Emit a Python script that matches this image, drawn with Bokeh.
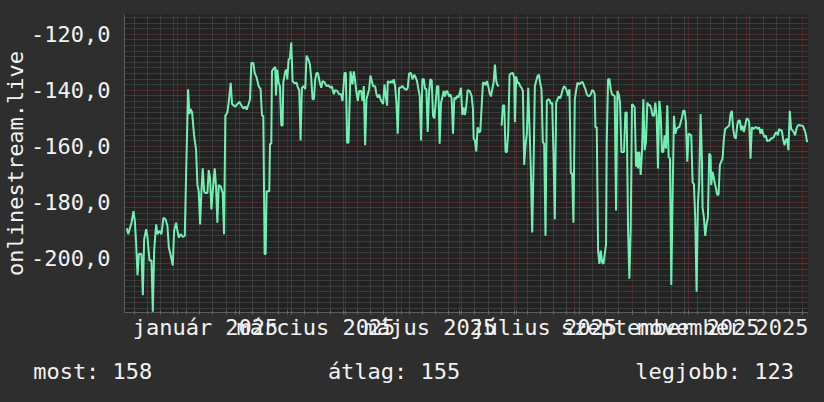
from bokeh.plotting import figure
from bokeh.models import (Range1d, FixedTicker, ColumnDataSource, LinearAxis,
                          GlobalInlineStyleSheet)
from bokeh.embed import file_html
from bokeh.resources import INLINE

# days since 2025-01-01 and the measured value (onlinestream.live)
day_offset = [
    -27.04, -26.33, -24.55, -23.48, -22.77, -22.06, -21.34, -20.63, -19.21, -18.50,
    -17.79, -16.72, -16.01, -14.94, -13.87, -13.16, -12.45, -11.38, -10.67, -9.61,
    -8.54, -7.47, -6.40, -5.34, -4.62, -3.56, -2.49, -1.78, -0.71, 0.00,
    0.71, 1.78, 2.85, 3.91, 4.62, 5.69, 6.40, 7.11, 7.83, 8.89,
    9.96, 10.67, 11.38, 12.10, 12.81, 13.52, 14.23, 14.94, 16.01, 16.72,
    17.43, 18.14, 18.85, 19.92, 20.63, 21.34, 22.06, 23.12, 24.19, 24.90,
    25.61, 26.68, 27.39, 28.46, 29.17,
    29.88, 30.95, 32.02, 33.08, 34.15, 35.22, 36.29, 37.00, 38.06, 38.78,
    39.49, 40.55, 41.27, 42.33, 43.40, 44.47, 45.18, 45.89, 46.60, 47.14,
    47.67, 49.09, 49.45, 50.16, 50.52, 51.23, 52.29, 52.65, 53.36, 54.07,
    54.78, 55.50, 56.21, 56.56, 57.63, 58.34, 58.70, 59.41, 60.12, 60.83,
    61.54, 62.61, 63.68, 64.39, 65.10, 65.81, 66.52, 67.59, 68.30, 69.01,
    70.08, 70.79, 71.50, 72.22, 72.93, 73.64, 74.35, 75.06, 76.13, 76.84,
    77.55, 78.62, 79.69, 80.75, 81.82, 82.53, 83.60, 84.31, 85.38, 86.45,
    87.51, 88.22, 89.29, 90.00, 90.71, 91.43,
    92.49, 93.56, 94.27, 94.98, 95.70, 96.41, 97.12, 98.19, 98.90, 99.61,
    100.32, 101.03, 101.74, 102.45, 103.17, 103.88, 104.59, 105.66, 106.37, 107.08,
    107.79, 108.50, 109.21, 109.93, 110.64, 111.35, 112.06, 112.42, 113.48, 114.19,
    114.91, 115.62, 116.33, 117.04, 117.75, 118.46, 119.17, 120.24, 121.31, 122.38,
    123.09, 123.80, 124.87, 125.58, 126.64, 127.36, 128.07, 128.78, 129.49, 130.20,
    130.91, 131.63, 132.34, 133.05, 133.76, 134.47, 135.18, 135.90, 136.61, 137.32,
    138.03, 138.74, 139.45, 140.16, 140.88, 141.59, 142.30, 143.01, 143.72, 144.43,
    145.14, 145.86, 146.57, 147.28, 147.99, 148.70, 149.41, 150.12, 150.83,
    151.55, 152.26, 152.97, 153.68, 154.39, 155.10, 156.17, 157.24, 157.95, 158.31,
    159.02, 159.73, 160.44, 161.15, 161.86, 162.58, 163.29, 164.00, 164.71, 165.42,
    166.13, 166.84, 167.56, 168.27, 168.98, 169.69, 170.40, 171.11, 171.82, 172.50,
    173.25, 173.96, 174.67, 175.38, 176.09, 176.80, 177.52, 178.23, 179.30, 180.01,
    180.36, 181.07, 181.78, 182.50, 183.21, 183.92, 184.63, 185.34, 186.05, 186.77,
    187.48, 188.19, 188.90, 189.61, 190.32, 191.04, 191.75, 192.46, 193.17, 193.88,
    194.59, 195.30, 196.01, 196.73, 197.44, 198.15, 198.86, 199.57, 200.28, 200.99,
    201.71, 202.42, 203.13, 203.84, 204.55, 205.26, 205.98, 206.69, 207.40, 208.11,
    208.82, 209.53, 210.25, 210.96, 211.67,
    212.38, 213.09, 213.80, 214.87, 215.94, 216.65, 217.36, 218.07, 218.78, 219.49,
    220.21, 220.92, 221.63, 222.34, 223.05, 223.41, 224.12, 224.83, 225.54, 226.25,
    226.96, 227.68, 228.39, 229.10, 229.46, 230.17, 230.88, 231.59, 232.30, 233.01,
    233.72, 234.44, 235.15, 235.86, 236.57, 237.28, 237.99, 238.70, 239.42, 240.13,
    240.84, 241.55, 242.26, 242.97, 243.68, 244.40, 245.11, 245.82, 246.17, 246.89,
    247.60, 248.31, 249.02, 249.73, 250.44, 251.16, 251.87, 252.58, 253.29, 254.00,
    254.71, 255.42, 256.14, 256.85, 257.56, 258.27, 258.98, 259.69, 260.41, 261.12,
    261.83, 262.54, 263.25, 263.96, 264.67, 265.39, 266.10, 266.81, 267.52, 268.23,
    268.94, 269.65, 270.37, 271.08, 271.79, 272.50,
    273.21, 274.64, 275.35, 276.06, 276.77, 277.48, 278.19, 278.90, 279.62, 280.33,
    280.68, 281.39, 282.10, 282.82, 283.53, 284.24, 284.95, 285.31, 286.02, 286.73,
    287.44, 288.51, 289.22, 289.93, 290.64, 291.36, 292.07, 292.78, 293.84, 294.91,
    295.62, 296.33, 297.05, 297.76, 298.47, 299.18, 299.89, 300.60, 301.32, 302.03,
    302.74, 303.45, 304.16, 304.87, 305.59, 306.30, 307.01, 308.07, 308.78, 309.50,
    310.21, 310.92, 311.63, 312.34, 313.05, 313.77, 314.48, 315.19, 315.90, 316.61,
    317.32, 318.04, 318.75, 319.46, 320.17, 320.88, 321.59, 322.31, 323.02, 323.73,
    324.44, 325.15, 325.86, 326.58, 327.29, 328.00, 328.71, 329.42, 330.13, 330.84,
    331.56, 332.27, 332.98, 333.69, 334.40, 335.11, 335.82, 336.54,
]

NAN = float("nan")
online = [
    -189.3, -191.4, -187.3, -183.2, -186.7, -194.9, -206.1, -198.5, -198.5, -213.2,
    -193.2, -189.6, -192.6, -200.8, -200.8, -219.1, -197.3, -187.9, -191.4, -190.2,
    -191.4, -185.5, -186.1, -188.5, -196.1, -199.1, -202.6, -190.2, -187.3, -190.2,
    -192.6, -191.4, -192.4, -192.0, -170.2, -139.6, -148.5, -146.7, -147.9, -156.1,
    -161.4, -173.8, -176.1, -187.9, -176.1, -167.9, -176.1, -176.7, -176.7, -168.5,
    -171.4, -182.6, -176.1, -167.9, -174.4, -187.3, -173.8, -174.4, -176.7, -191.4,
    -149.1, -147.9, -144.4, -137.3, -144.9,
    -145.3, -145.8, -144.9, -144.1, -145.3, -146.5, -145.8, -146.9, -144.9, -143.2,
    -130.2, -130.2, -133.8, -135.5, -138.5, -139.6, -149.1, -149.1, -198.5, -198.5,
    -176.1, -176.1, -159.1, -159.1, -133.2, -132.4, -131.6, -141.8, -132.6, -137.3,
    -138.5, -152.6, -152.6, -137.3, -133.2, -132.6, -136.1, -129.1, -128.5, -122.9,
    -136.7, -137.5, -137.3, -139.1, -139.9, -157.9, -139.1, -138.5, -139.6, -127.6,
    -129.1, -130.8, -135.5, -143.2, -143.2, -136.1, -133.8, -133.8, -137.3, -139.1,
    -136.7, -137.1, -138.5, -138.2, -139.1, -138.5, -141.4, -139.9, -140.2, -141.4,
    -141.4, -143.8, -133.8, -133.8, -158.7, -158.7,
    -133.2, -137.9, -133.2, -136.7, -140.8, -143.8, -140.2, -140.2, -143.8, -138.5,
    -159.6, -143.2, -141.4, -139.6, -134.7, -136.7, -138.5, -138.5, -141.4, -142.6,
    -141.4, -143.2, -144.1, -144.9, -137.9, -142.0, -145.5, -136.7, -137.3, -136.7,
    -137.3, -136.1, -138.5, -144.4, -155.5, -139.1, -139.1, -138.5, -139.4, -139.9,
    -139.1, -134.0, -133.8, -136.1, -134.4, -135.5, -136.7, -139.6, -142.0, -157.9,
    -136.1, -135.9, -139.4, -139.6, -154.9, -140.8, -136.1, -136.4, -149.1, -150.0,
    -144.4, -138.5, -138.5, -159.1, -144.4, -142.6, -140.2, -142.2, -140.2, -140.6,
    -142.2, -141.4, -142.9, -155.5, -142.6, -143.2, -142.0, -142.6, -141.1,
    -139.1, -148.8, -146.1, -148.8, -145.5, -139.9, -140.2, -142.0, -146.7, -157.3,
    -157.9, -161.8, -153.2, -155.0, -154.7, -146.1, -137.3, -137.3, -138.2, -136.7,
    -138.5, -140.8, -142.2, -139.6, -137.3, -130.8, -136.7, -138.2, -138.5, NAN,
    -152.6, -145.5, -145.3, -162.0, -162.0, -154.9, -134.4, -134.0, -133.8, -135.5,
    -151.4, -135.0, -137.3, -137.3, -138.5, -139.1, -140.2, -166.7, -159.6, -155.5,
    -139.1, -153.8, -168.5, -190.8, -168.5, -138.5, -136.7, -134.9, -134.4, -137.3,
    -139.6, -158.5, -159.1, -192.0, -143.8, -143.2, -143.4, -144.9, -144.4, -162.6,
    -186.1, -144.4, -143.2, -142.2, -142.9, -141.4, -139.6, -138.5, -139.1, -140.2,
    -142.0, -139.6, -169.6, -169.6, -187.3,
    -143.2, -140.2, -137.3, -137.9, -137.1, -137.1, -138.5, -139.6, -141.4, -142.0,
    -142.0, -141.4, -139.9, -140.2, -141.4, -153.2, -153.2, -197.3, -202.0, -197.3,
    -201.4, -202.0, -198.5, -195.0, -158.5, -136.1, -135.9, -139.6, -141.4, -141.8,
    -142.0, -182.9, -140.2, -141.4, -144.4, -162.0, -162.0, -162.0, -147.9, -147.9,
    -189.1, -207.3, -189.7, -144.9, -145.5, -146.1, -167.3, -162.0, -167.9, -162.0,
    -170.2, -162.0, -143.2, -161.4, -158.5, -144.4, -145.3, -145.3, -146.7, -149.1,
    -149.1, -144.4, -149.1, -167.9, -143.8, -148.5, -162.0, -162.0, -156.1, -160.8,
    -145.3, -163.8, -164.4, -209.6, -177.3, -149.1, -155.5, -153.8, -153.2, -153.2,
    -151.4, -149.7, -147.3, -147.3, -151.4, -165.5,
    -155.5, -156.1, -172.9, -173.5, -186.1, -212.0, -180.8, -172.6, -148.5, -164.4,
    -182.0, -185.5, -192.0, -187.9, -185.5, -162.6, -163.2, -173.8, -169.1, -171.5,
    -173.8, -177.3, -177.3, -166.7, -165.5, -164.4, -157.3, -153.8, -153.2, -152.6,
    -148.5, -147.3, -153.8, -156.7, -157.3, -152.6, -150.8, -150.8, -154.3, -152.6,
    -154.9, -152.6, -150.2, -150.2, -151.4, -164.4, -153.2, -153.8, -153.2, -153.2,
    -153.8, -153.2, -155.5, -153.8, -155.5, -156.7, -156.1, -158.2, -157.9, -157.9,
    -157.1, -157.1, -156.7, -155.5, -154.9, -156.1, -153.8, -154.3, -154.3, -157.3,
    -159.6, -157.9, -157.3, -161.4, -147.3, -153.8, -154.3, -154.9, -156.1, -153.8,
    -152.6, -152.4, -152.6, -152.6, -152.8, -154.0, -155.5, -158.5,
]

# calendar helpers (days since 2025-01-01)
month_start_days = [0, 31, 59, 90, 120, 151, 181, 212, 243, 273, 304, 334]
monday_days = [d for d in range(-23, 338, 7)]
label_days = [15, 74, 135, 196, 258, 319]
label_texts = ["január 2025", "március 2025", "május 2025",
               "július 2025", "szeptember 2025", "november 2025"]

y_ticks = [-200, -180, -160, -140, -120]
y_tick_labels = ["-200,0", "-180,0", "-160,0", "-140,0", "-120,0"]
y_minor = [v for v in range(-218, -112, 2) if v not in y_ticks]

legend_names = ["most", "átlag", "legjobb"]
legend_values = [158, 155, 123]

FONT = "DejaVu Sans Mono"
TEXT = "#f2f2f2"
OUTER = "#2e2e2e"

p = figure(width=808, height=386, output_backend="svg", toolbar_location=None,
           x_range=Range1d(-28.3, 337.3), y_range=Range1d(-219.4, -112.9),
           min_border_left=123, min_border_right=0, min_border_top=14,
           min_border_bottom=70)
p.stylesheets = [GlobalInlineStyleSheet(css="body { background-color: #2e2e2e; }")]
p.background_fill_color = "#222222"
p.border_fill_color = OUTER
p.outline_line_color = None

# grids
p.xgrid.ticker = FixedTicker(ticks=month_start_days,
                             minor_ticks=[d for d in monday_days if d not in month_start_days])
p.ygrid.ticker = FixedTicker(ticks=y_ticks, minor_ticks=y_minor)
for g in (p.xgrid[0], p.ygrid[0]):
    g.grid_line_color = "#7a2f2f"
    g.grid_line_dash = "1 1"
    g.grid_line_width = 1
    g.minor_grid_line_color = "#555555"
    g.minor_grid_line_dash = "1 1"
    g.minor_grid_line_width = 1

# x axis
xa = p.xaxis[0]
xa.ticker = FixedTicker(ticks=label_days, minor_ticks=monday_days + month_start_days)
xa.major_label_overrides = {d: t for d, t in zip(label_days, label_texts)}
xa.major_tick_out = 0
xa.major_tick_in = 0
xa.major_tick_line_color = None
xa.minor_tick_out = 2
xa.minor_tick_in = 2
xa.minor_tick_line_color = "#6a6a6a"
xa.axis_line_color = "#5e5e5e"
xa.major_label_text_font = FONT
xa.major_label_text_font_size = "22px"
xa.major_label_text_color = TEXT
xa.major_label_standoff = 0

# y axis
ya = p.yaxis[0]
ya.ticker = FixedTicker(ticks=y_ticks, minor_ticks=[])
ya.major_label_overrides = {v: t for v, t in zip(y_ticks, y_tick_labels)}
ya.major_tick_out = 0
ya.major_tick_in = 0
ya.major_tick_line_color = None
ya.minor_tick_line_color = None
ya.axis_line_color = "#5e5e5e"
ya.major_label_text_font = FONT
ya.major_label_text_font_size = "22px"
ya.major_label_text_color = TEXT
ya.major_label_standoff = 14
ya.axis_label = "onlinestream.live"
ya.axis_label_text_font = FONT
ya.axis_label_text_font_size = "22px"
ya.axis_label_text_font_style = "normal"
ya.axis_label_text_color = TEXT
ya.axis_label_standoff = 0

src = ColumnDataSource(data=dict(day=day_offset, value=online))
p.line(x="day", y="value", source=src, line_color="#72f0b4", line_width=2)

# legend row (rrdtool GPRINT line): a second, line-less axis under the date axis.
# Its range is in pixels across the graph area; the first entry is padded so
# that it can start left of the graph area like in rrdtool.
NBSP = "\u00a0"
legend_pos = [8, 270, 591]
legend_texts = [f"{n}: {v}" for n, v in zip(legend_names, legend_values)]
legend_texts[0] = legend_texts[0] + NBSP * 6
p.extra_x_ranges = {"legend": Range1d(0, 685)}
la = LinearAxis(x_range_name="legend",
                ticker=FixedTicker(ticks=legend_pos, minor_ticks=[]),
                major_label_overrides={k: t for k, t in zip(legend_pos, legend_texts)},
                axis_line_color=None, major_tick_line_color=None,
                minor_tick_line_color=None, major_tick_out=0, major_tick_in=0,
                minor_tick_out=0, minor_tick_in=0,
                major_label_text_font=FONT, major_label_text_font_size="22px",
                major_label_text_color=TEXT, major_label_standoff=16)
p.add_layout(la, "below")

open("out.html", "w").write(file_html(p, INLINE))
